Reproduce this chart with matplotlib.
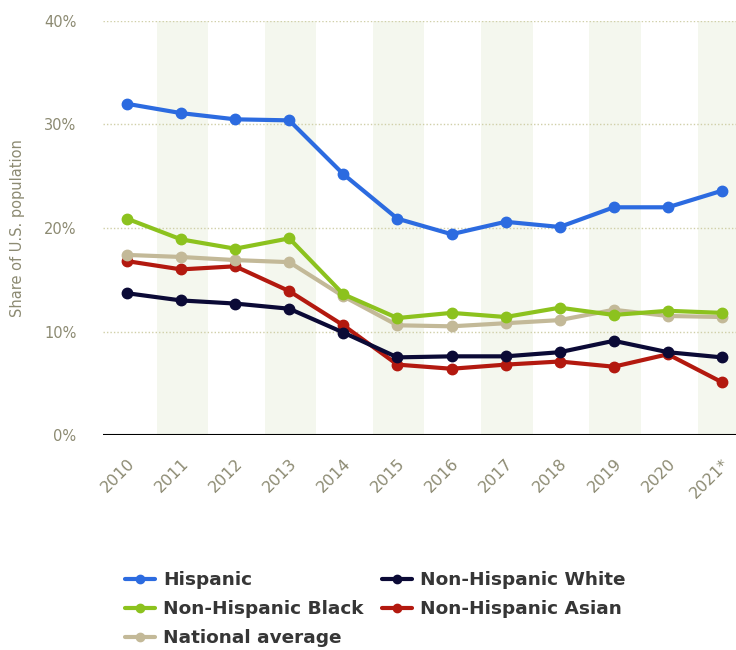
import matplotlib
matplotlib.use("Agg")
from matplotlib import pyplot as plt

years = ["2010", "2011", "2012", "2013", "2014", "2015", "2016", "2017", "2018", "2019", "2020", "2021*"]

hispanic = [32.0, 31.1, 30.5, 30.4, 25.2, 20.9, 19.4, 20.6, 20.1, 22.0, 22.0, 23.6]
nh_black = [20.9, 18.9, 18.0, 19.0, 13.6, 11.3, 11.8, 11.4, 12.3, 11.6, 12.0, 11.8]
national = [17.4, 17.2, 16.9, 16.7, 13.4, 10.6, 10.5, 10.8, 11.1, 12.1, 11.5, 11.4]
nh_white = [13.7, 13.0, 12.7, 12.2, 9.9, 7.5, 7.6, 7.6, 8.0, 9.1, 8.0, 7.5]
nh_asian = [16.8, 16.0, 16.3, 13.9, 10.6, 6.8, 6.4, 6.8, 7.1, 6.6, 7.8, 5.1]

series = [
    ("Hispanic", hispanic, "#2c6be0"),
    ("Non-Hispanic Black", nh_black, "#8cc21e"),
    ("National average", national, "#c3b998"),
    ("Non-Hispanic White", nh_white, "#0b0a36"),
    ("Non-Hispanic Asian", nh_asian, "#b3190f"),
]

label_color = "#8c8a72"

fig = plt.figure(figsize=(7.36, 6.5), dpi=100)
ax = fig.add_axes([103 / 736, 215 / 650, 633 / 736, 414 / 650])

x = list(range(len(years)))

# alternating background bands
for i in x:
    if i % 2 == 1:
        ax.axvspan(i - 0.45, i + 0.5, color="#f4f7ee", zorder=0, lw=0)

# draw in reverse so hispanic is on top like the original
for name, vals, col in reversed(series):
    ax.plot(x, vals, color=col, lw=3, marker="o", ms=7.5, label=name,
            solid_capstyle="round", zorder=3)

ax.set_xlim(-0.444, 11.26)
ax.set_ylim(0, 40)
ax.set_yticks([0, 10, 20, 30, 40])
ax.set_yticklabels(["0%", "10%", "20%", "30%", "40%"])
ax.set_xticks(x)
ax.set_xticklabels(years, rotation=45, ha="right", rotation_mode="anchor")

for v in [10, 20, 30, 40]:
    ax.axhline(v, color="#d0cfa8", lw=1, ls=(0, (1, 1.5)), zorder=1)
ax.axhline(0, color="black", lw=1.5, zorder=4)

for s in ax.spines.values():
    s.set_visible(False)
ax.tick_params(axis="both", length=0, colors=label_color)
ax.tick_params(axis="y", pad=19, labelsize=10.5)
ax.tick_params(axis="x", pad=15, labelsize=11.5)

ax.set_ylabel("Share of U.S. population", color=label_color, fontsize=10.5, labelpad=14)

handles, labels = ax.get_legend_handles_labels()
order = ["Hispanic", "Non-Hispanic Black", "National average", "Non-Hispanic White", "Non-Hispanic Asian"]
hmap = dict(zip(labels, handles))
leg = fig.legend([hmap[n] for n in order], order, loc="upper left",
                 bbox_to_anchor=(116 / 736, 1 - 562 / 650), ncol=2, frameon=False,
                 prop={"weight": "bold", "size": 13.3}, handlelength=1.6, borderpad=0,
                 columnspacing=1.0, labelspacing=0.6, handletextpad=0.45,
                 markerscale=0.8)
for t in leg.get_texts():
    t.set_color("#363636")

plt.savefig("out.png", dpi=100)
plt.close()
